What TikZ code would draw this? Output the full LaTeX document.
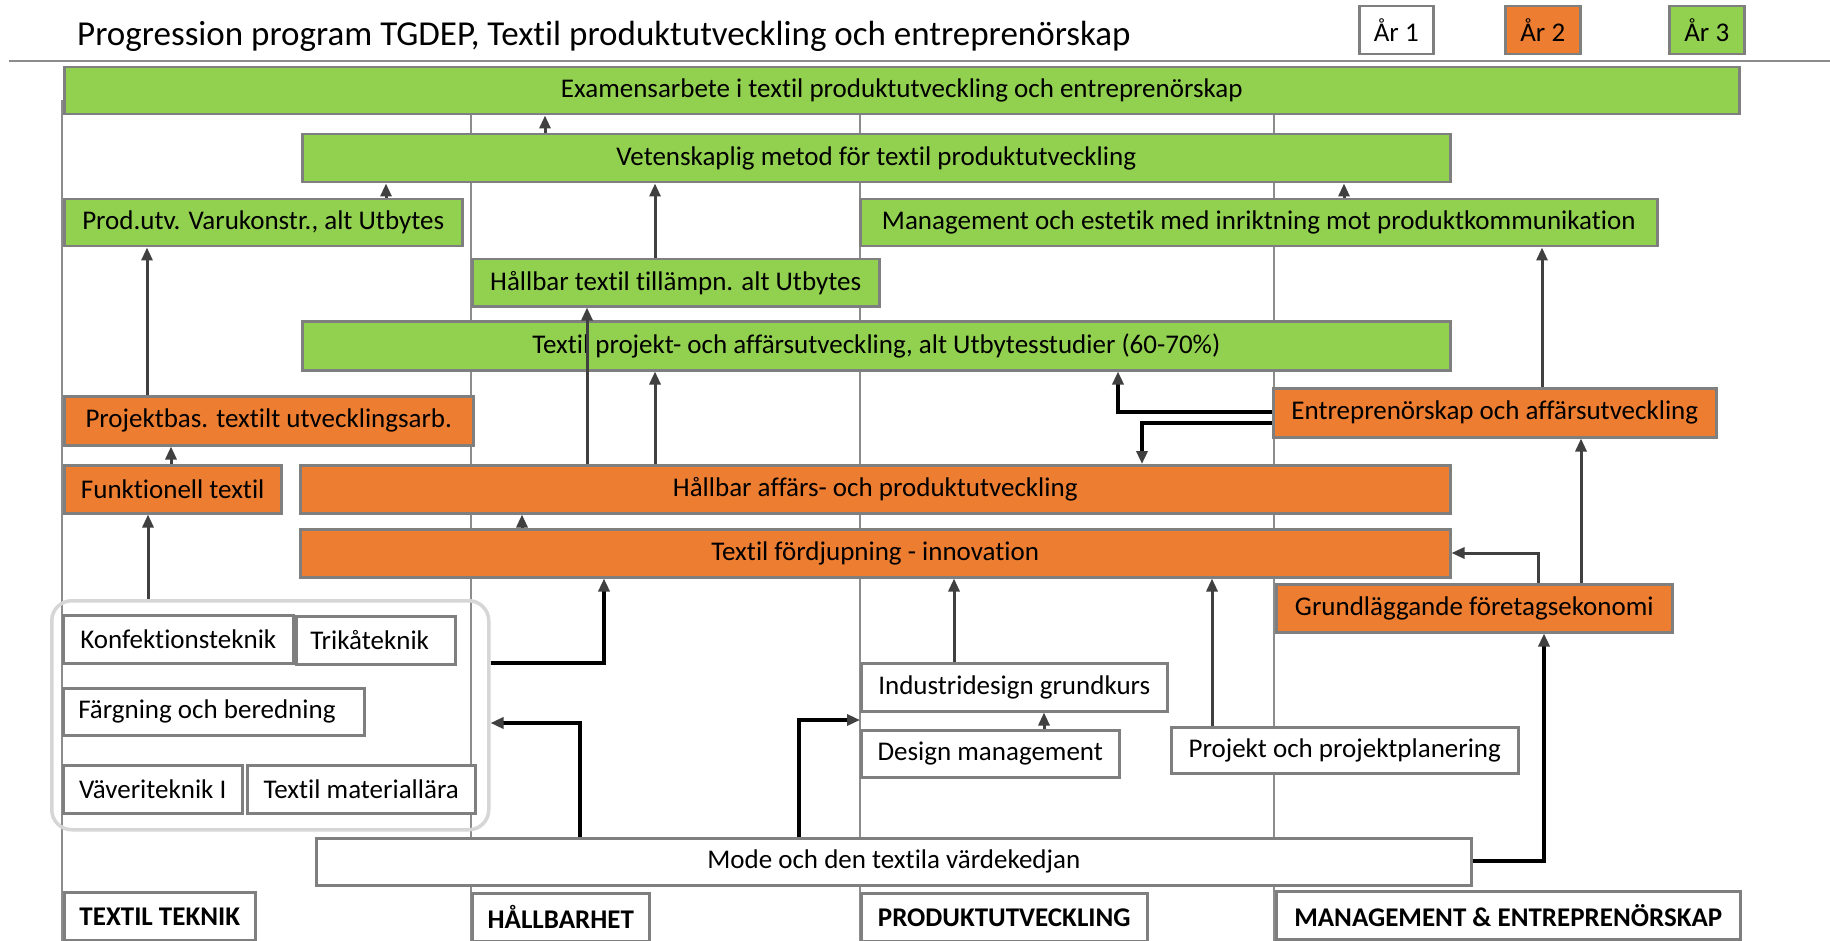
\documentclass[tikz,border=0pt]{standalone}
\usepackage{fontspec}
\setmainfont{Carlito}[Ligatures={NoCommon}]
\usetikzlibrary{arrows.meta,calc}
\definecolor{grn}{HTML}{92D050}
\definecolor{org}{HTML}{ED7D31}
\definecolor{bord}{HTML}{7F7F7F}
\definecolor{arrc}{HTML}{404040}
\definecolor{colc}{HTML}{8C8C8C}
\definecolor{grpc}{HTML}{D6D6D6}
\newcommand{\mybox}[7]{\node[#1, minimum width={#5pt-#3pt}, minimum height={#6pt-#4pt}] (#2) at (#3,#4) {#7};}
\begin{document}
\begin{tikzpicture}[x=1pt,y=-1pt,
  box/.style={draw=bord, line width=2.5pt, inner sep=0pt, anchor=north west, font=\fontsize{27}{32}\selectfont, text=black},
  g/.style={box, fill=grn},
  o/.style={box, fill=org},
  w/.style={box, fill=white},
  lab/.style={box, fill=white, font=\fontsize{27}{32}\selectfont\bfseries},
  tip/.style={-{Triangle[length=13pt,width=11pt]}},
  arr/.style={draw=arrc, line width=3pt, tip},
  elb/.style={draw=black, line width=3.5pt, -{Triangle[length=13pt,width=11pt,color=arrc]}},
  colline/.style={draw=colc, line width=1.3pt},
  grpbox/.style={draw=grpc, line width=3.5pt, rounded corners=20pt, inner sep=0pt, anchor=north west}
]
\useasboundingbox (0,0) rectangle (1830,941);
\fill[white] (0,0) rectangle (1830,941);

% column lines and separator
\draw[colline] (62,100) -- (62,941);
\draw[colline] (471,113) -- (471,941);
\draw[colline] (860,113) -- (860,941);
\draw[colline] (1274,113) -- (1274,941);
\draw[draw=colc, line width=2pt] (9,61) -- (1830,61);

% title and legend
\node[anchor=base west, font=\fontsize{35}{40}\selectfont, inner sep=0pt] (title) at (77,46) {Progression program TGDEP, Textil produktutveckling och entreprenörskap};
\mybox{w}{ar1}{1358}{5}{1432}{53}{År 1}
\mybox{o}{ar2}{1504}{5}{1579}{53}{År 2}
\mybox{g}{ar3}{1668}{5}{1743}{53}{År 3}

% year 3
\mybox{g}{exam}{63}{66}{1738}{113}{Examensarbete i textil produktutveckling och entreprenörskap}
\mybox{g}{vet}{301}{133}{1449}{181}{Vetenskaplig metod för textil produktutveckling}
\mybox{g}{prod}{63}{198}{461}{245}{Prod.utv. Varukonstr., alt Utbytes}
\mybox{g}{mgmt}{859}{198}{1656}{245}{Management och estetik med inriktning mot produktkommunikation}
\mybox{g}{htt}{471}{258}{878}{305}{Hållbar textil tillämpn. alt Utbytes}
\mybox{g}{tpa}{301}{320}{1449}{369}{Textil projekt- och affärsutveckling, alt Utbytesstudier (60-70\%)}

% year 2
\mybox{o}{pbas}{63}{395}{472}{444}{Projektbas. textilt utvecklingsarb.}
\mybox{o}{entr}{1272}{387}{1715}{436}{Entreprenörskap och affärsutveckling}
\mybox{o}{funk}{63}{464}{280}{512}{Funktionell textil}
\mybox{o}{hap}{299}{464}{1449}{512}{Hållbar affärs- och produktutveckling}
\mybox{o}{tfi}{299}{528}{1449}{576}{Textil fördjupning - innovation}
\mybox{o}{grund}{1275}{583}{1671}{631}{Grundläggande företagsekonomi}

% year 1
\node[grpbox, minimum width=437pt, minimum height=229pt] (grp) at (50,599) {};
\mybox{w}{konf}{62}{614}{292}{662}{Konfektionsteknik}
\mybox{w}{trik}{295}{615}{454}{663}{\makebox[131pt][l]{Trikåteknik}}
\mybox{w}{farg}{62}{687}{363}{734}{\makebox[271pt][l]{Färgning och beredning}}
\mybox{w}{vav}{62}{764}{241}{812}{Väveriteknik I}
\mybox{w}{tmat}{246}{764}{474}{812}{Textil materiallära}
\mybox{w}{indu}{860}{662}{1166}{710}{Industridesign grundkurs}
\mybox{w}{desman}{860}{729}{1118}{776}{Design management}
\mybox{w}{projpl}{1170}{726}{1517}{772}{Projekt och projektplanering}
\mybox{w}{mode}{315}{837}{1470}{884}{Mode och den textila värdekedjan}

% column labels
\mybox{lab}{tt}{63}{891}{254}{939}{TEXTIL TEKNIK}
\mybox{lab}{hb}{471}{892}{648}{940}{HÅLLBARHET}
\mybox{lab}{pu}{860}{892}{1146}{940}{PRODUKTUTVECKLING}
\mybox{lab}{me}{1275}{890}{1739}{938}{MANAGEMENT \& ENTREPRENÖRSKAP}

% helper coordinates
\coordinate (x148) at (148,0);
\coordinate (x147) at (147,0);
\coordinate (x171) at (171,0);
\coordinate (x386) at (386,0);
\coordinate (x522) at (522,0);
\coordinate (x545) at (545,0);
\coordinate (x580) at (580,0);
\coordinate (x587) at (587,0);
\coordinate (x604) at (604,0);
\coordinate (x655) at (655,0);
\coordinate (x799) at (799,0);
\coordinate (x954) at (954,0);
\coordinate (x1044) at (1044,0);
\coordinate (x1118) at (1118,0);
\coordinate (x1142) at (1142,0);
\coordinate (x1212) at (1212,0);
\coordinate (x1344) at (1344,0);
\coordinate (x1538) at (1538,0);
\coordinate (x1542) at (1542,0);
\coordinate (x1544) at (1544,0);
\coordinate (x1581) at (1581,0);
\coordinate (y412) at (0,412);
\coordinate (y423) at (0,423);
\coordinate (y553) at (0,553);
\coordinate (y663) at (0,663);
\coordinate (y720) at (0,720);
\coordinate (y723) at (0,723);
\coordinate (y861) at (0,861);

% straight arrows
\draw[arr] (x545 |- vet.north) -- (x545 |- exam.south);
\draw[arr] (x386 |- prod.north) -- (x386 |- vet.south);
\draw[arr] (x1344 |- mgmt.north) -- (x1344 |- vet.south);
\draw[arr] (x655 |- htt.north) -- (x655 |- vet.south);
\draw[arr] (x147 |- pbas.north) -- (x147 |- prod.south);
\draw[arr] (x171 |- funk.north) -- (x171 |- pbas.south);
\draw[arr] (x148 |- grp.north) -- (x148 |- funk.south);
\draw[arr] (x587 |- hap.north) -- (x587 |- htt.south);
\draw[arr] (x655 |- hap.north) -- (x655 |- tpa.south);
\draw[arr] (x1542 |- entr.north) -- (x1542 |- mgmt.south);
\draw[arr] (x522 |- tfi.north) -- (x522 |- hap.south);
\draw[arr] (x954 |- indu.north) -- (x954 |- tfi.south);
\draw[arr] (x1212 |- projpl.north) -- (x1212 |- tfi.south);
\draw[arr] (x1044 |- desman.north) -- (x1044 |- indu.south);
\draw[arr] (x1581 |- grund.north) -- (x1581 |- entr.south);

% elbow arrows
\draw[elb] (entr.west |- y412) -- (x1118 |- y412) -- (x1118 |- tpa.south);
\draw[elb] (entr.west |- y423) -- (x1142 |- y423) -- (x1142 |- hap.north);
\draw[elb] (grp.east |- y663) -- (x604 |- y663) -- (x604 |- tfi.south);
\draw[arr] (x1538 |- grund.north) -- (x1538 |- y553) -- (tfi.east |- y553);
\draw[elb] (mode.east |- y861) -- (x1544 |- y861) -- (x1544 |- grund.south);
\draw[elb] (x580 |- mode.north) -- (x580 |- y723) -- (grp.east |- y723);
\draw[elb] (x799 |- mode.north) -- (x799 |- y720) -- (indu.west |- y720);
\end{tikzpicture}
\end{document}
